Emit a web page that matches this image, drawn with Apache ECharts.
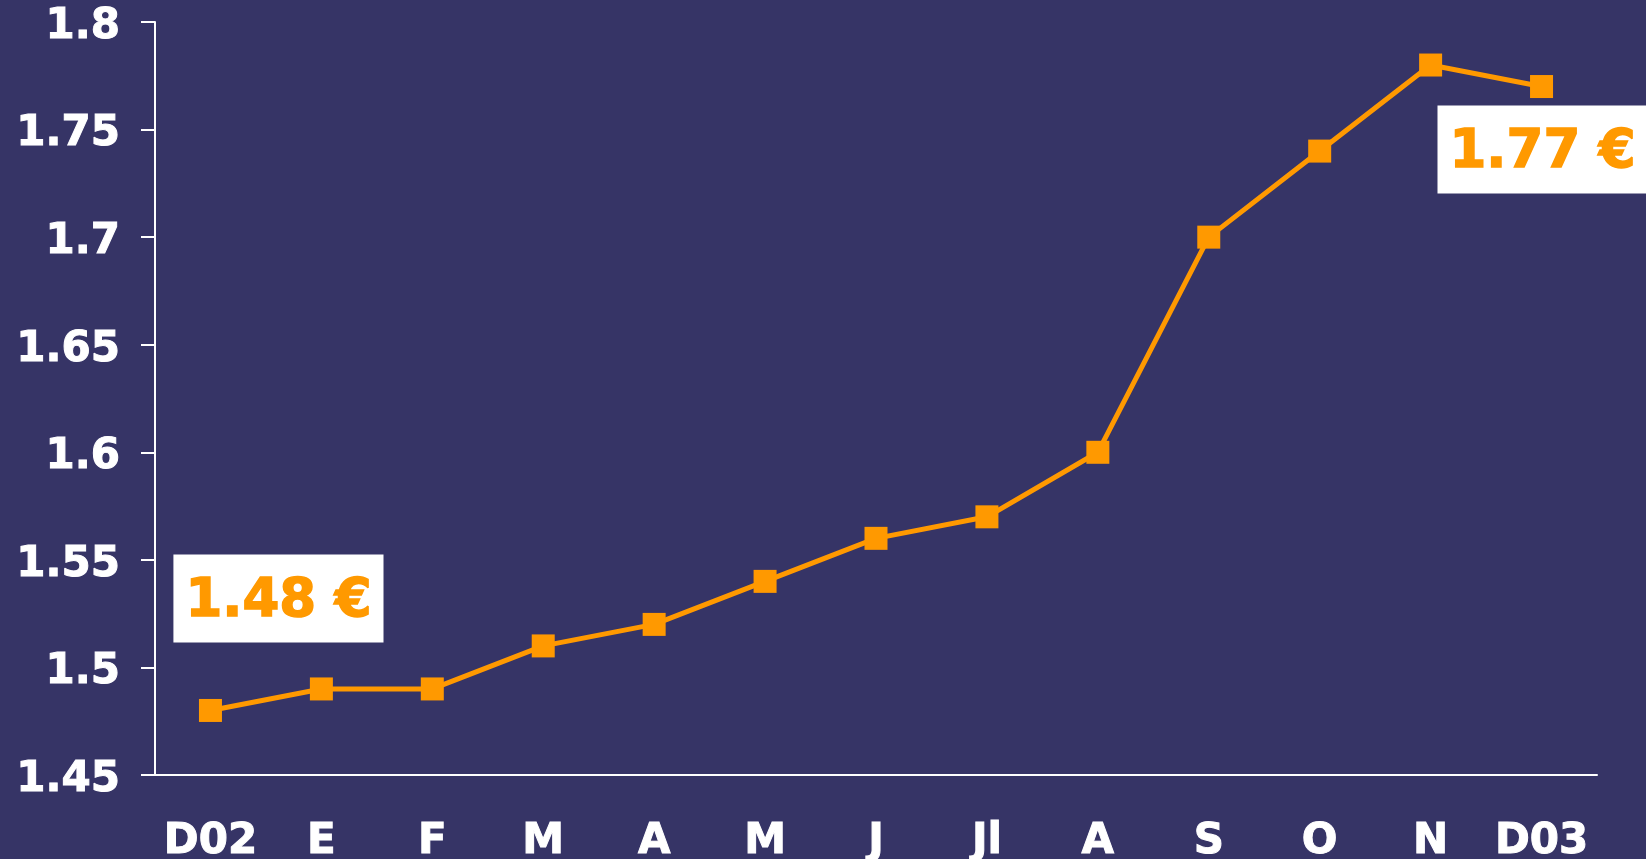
<!DOCTYPE html>
<html>
<head>
<meta charset="utf-8">
<title>Prix mensuel</title>
<script src="https://cdn.jsdelivr.net/npm/echarts@6/dist/echarts.min.js"></script>
<style>
  html, body { margin: 0; padding: 0; background: #363466; }
  #chart { width: 1646px; height: 859px; }
</style>
</head>
<body>
<div id="chart"></div>
<script>
const months = ['D02', 'E', 'F', 'M', 'A', 'M', 'J', 'Jl', 'A', 'S', 'O', 'N', 'D03']
const prices = [1.48, 1.49, 1.49, 1.51, 1.52, 1.54, 1.56, 1.57, 1.60, 1.70, 1.74, 1.78, 1.77]
const callouts = { 0: '1.48 €', 12: '1.77 €' }
const calloutOffsets = { 0: [68, -112], 12: [1, 63] }

const orange = '#FF9900'
const fontFamily = 'DejaVu Sans, Verdana, sans-serif'

const seriesData = prices.map((v, i) => {
  if (!callouts[i]) return v
  return {
    value: v,
    label: {
      show: true,
      position: 'inside',
      offset: calloutOffsets[i],
      formatter: '{t|' + callouts[i] + '}',
      backgroundColor: '#ffffff',
      padding: [17, 12, 17, 12],
      rich: {
        t: {
          color: orange,
          textBorderColor: orange,
          textBorderWidth: 1.5,
          fontFamily,
          fontWeight: 'bold',
          fontSize: 53,
          lineHeight: 54,
          padding: [8, 0, 0, 0],
          height: 46
        }
      }
    }
  }
})

const chart = echarts.init(document.getElementById('chart'))
chart.setOption({
  backgroundColor: '#363466',
  animation: false,
  grid: { left: 155, right: 49, top: 22, bottom: 84, containLabel: false, outerBoundsMode: 'none' },
  xAxis: {
    type: 'category',
    data: months,
    boundaryGap: true,
    axisLine: { lineStyle: { color: '#ffffff', width: 2 } },
    axisTick: { show: false },
    axisLabel: {
      color: '#ffffff',
      textBorderColor: '#ffffff',
      textBorderWidth: 1,
      fontFamily,
      fontWeight: 'bold',
      fontSize: 42,
      margin: 46,
      interval: 0
    },
    splitLine: { show: false }
  },
  yAxis: {
    type: 'value',
    min: 1.45,
    max: 1.8,
    interval: 0.05,
    axisLine: { show: true, lineStyle: { color: '#ffffff', width: 2 } },
    axisTick: { show: true, length: 14, lineStyle: { color: '#ffffff', width: 2 } },
    axisLabel: {
      color: '#ffffff',
      textBorderColor: '#ffffff',
      textBorderWidth: 1,
      fontFamily,
      fontWeight: 'bold',
      fontSize: 42,
      margin: 35,
      verticalAlign: 'top',
      lineHeight: 10,
      formatter: v => String(Math.round(v * 100) / 100)
    },
    splitLine: { show: false }
  },
  series: [{
    type: 'line',
    data: seriesData,
    symbol: 'rect',
    symbolSize: 23,
    lineStyle: { color: orange, width: 5 },
    itemStyle: { color: orange },
    z: 3
  }]
})
</script>
</body>
</html>
